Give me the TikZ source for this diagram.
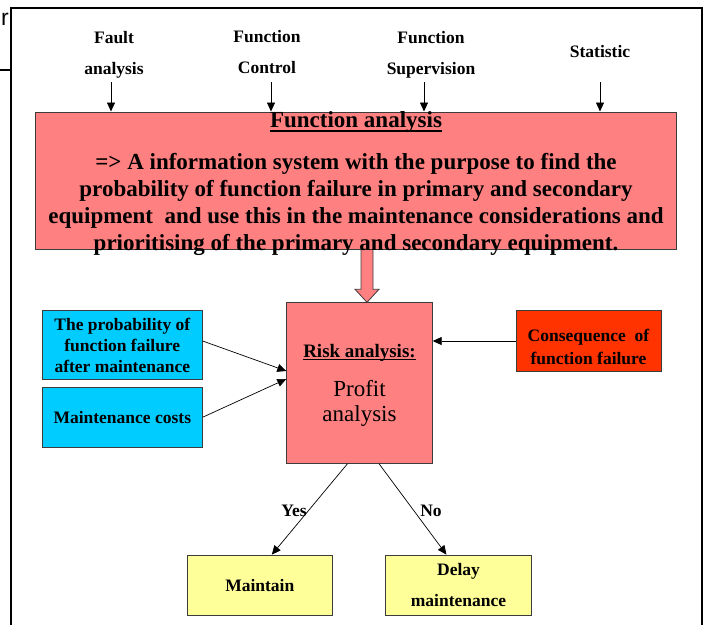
\documentclass[tikz,border=0pt]{standalone}
\usepackage{fontspec}
\setmainfont{Liberation Serif}
\newfontfamily\cropfont{Liberation Sans}
\usetikzlibrary{arrows.meta, calc}
\definecolor{rose_red}{RGB}{255, 128, 128}
\definecolor{sky_cyan}{RGB}{0, 204, 255}
\definecolor{fire_red}{RGB}{255, 51, 0}
\definecolor{pale_yellow}{RGB}{255, 255, 153}
\definecolor{edge_gray}{RGB}{60, 60, 60}
\newcommand{\undl}[3]{\leavevmode\setbox0\hbox{#3}\rlap{\rule[-#1]{\wd0}{#2}}\box0}

\begin{document}
\begin{tikzpicture}[
    x=1pt, y=-1pt,
    box/.style={
        rectangle,
        draw=edge_gray,
        fill=#1,
        line width=0.8pt,
        inner sep=0pt,
        minimum width=145pt,
        minimum height=60.5pt,
        align=center,
        font=\fontsize{17.5}{21}\selectfont\bfseries
    },
    toplabel/.style={
        inner sep=0pt,
        align=center,
        font=\fontsize{17.5}{31}\selectfont\bfseries
    },
    fat_arrow/.style={
        draw=edge_gray,
        fill=rose_red,
        line width=0.8pt
    },
    arrow/.style={
        -{Triangle[length=9pt,width=8pt]},
        line width=0.7pt,
        #1
    },
    frame/.style={
        line width=2pt,
        #1
    },
]
\useasboundingbox (0,0) rectangle (707,625);

% cut-off bits at the page edge
\node[anchor=base west, inner sep=0pt, font=\cropfont\fontsize{23}{23}\selectfont] (crop_r) at (1,25) {r};
\draw[frame=black, line width=1.5pt] (0,70) -- (12,70);
\draw[frame=black] (11,625) -- (11,8) -- (702,8) -- (702,625);

% inputs on top
\node[toplabel] (fault) at (114,54.4) {Fault\\analysis};
\node[toplabel] (control) at (267,52.5) {Function\\Control};
\node[toplabel] (superv) at (431,54.4) {Function\\Supervision};
\node[toplabel, anchor=base] (stat) at (600,57) {Statistic};

\coordinate (fault_in) at (111,82);
\coordinate (control_in) at (271,82);
\coordinate (superv_in) at (424,82);
\coordinate (stat_in) at (600,82);

\node[box=rose_red, minimum width=641pt, minimum height=137pt] (fa) at (355.5,180.4) {};
\node[box=rose_red, minimum width=145.6pt, minimum height=160.6pt] (risk) at (359.5,383) {};

\coordinate (fa_out) at (367,249.5);
\draw[fat_arrow] ($(fa_out)+(-6,0)$) -- ($(fa_out |- risk.north)+(-6,-13)$)
    -- ($(fa_out |- risk.north)+(-12,-13)$) -- ($(fa_out |- risk.north)$)
    -- ($(fa_out |- risk.north)+(12,-13)$) -- ($(fa_out |- risk.north)+(6,-13)$)
    -- ($(fa_out)+(6,0)$);

\node[anchor=base, inner sep=0pt, font=\fontsize{23}{27}\selectfont\bfseries] (fa_title) at (356,127) {\undl{4.8pt}{2pt}{Function analysis}};
\node[inner sep=0pt, align=center, font=\fontsize{23}{27}\selectfont\bfseries] (fa_text) at (356,204.2) {=> A information system with the purpose to find the\\probability of function failure in primary and secondary\\equipment\ \ and use this in the maintenance considerations and\\prioritising of the primary and secondary equipment.};

\node[anchor=base, inner sep=0pt, font=\fontsize{19}{23}\selectfont\bfseries] (risk_title) at (359.5,357) {\undl{3pt}{1.3pt}{Risk analysis:}};
\node[inner sep=0pt, align=center, font=\fontsize{23}{25}\selectfont] (risk_text) at (359.5,403.2) {Profit\\analysis};

\node[box=sky_cyan, minimum width=160pt, minimum height=68.6pt] (prob) at (122.3,345) {The probability of\\function failure\\after maintenance};
\node[box=sky_cyan, minimum width=160pt, minimum height=60pt] (cost) at (122.3,417.2) {Maintenance costs};

\node[box=fire_red, font=\fontsize{17.5}{23}\selectfont\bfseries] (cons) at (588.5,341) {\rule{0pt}{25pt}Consequence\ \ of\\function failure};

\node[box=pale_yellow] (maint) at (259.8,585.3) {Maintain};
\node[box=pale_yellow, minimum width=145.6pt, font=\fontsize{17.5}{31}\selectfont\bfseries] (delay) at (458.5,585.3) {Delay\\maintenance};

\node[toplabel, anchor=base] (yes) at (294,516) {Yes};
\node[toplabel, anchor=base] (no) at (431,516) {No};

% input arrows
\draw[arrow=black] (fault_in) -- (fault_in |- fa.north);
\draw[arrow=black] (control_in) -- (control_in |- fa.north);
\draw[arrow=black] (superv_in) -- (superv_in |- fa.north);
\draw[arrow=black] (stat_in) -- (stat_in |- fa.north);

% into the risk analysis
\draw[arrow=black] ([yshift=4pt]prob.east) -- ([yshift=12pt]risk.west);
\draw[arrow=black] (cost.east) -- ([yshift=4pt]risk.west);
\draw[arrow=black] (cons.west) -- (cons.west -| risk.east);

% decision
\draw[arrow=black] ([xshift=-12pt]risk.south) -- ([xshift=12pt]maint.north);
\draw[arrow=black] ([xshift=19.5pt]risk.south) -- ([xshift=-12pt]delay.north);

\end{tikzpicture}
\end{document}
